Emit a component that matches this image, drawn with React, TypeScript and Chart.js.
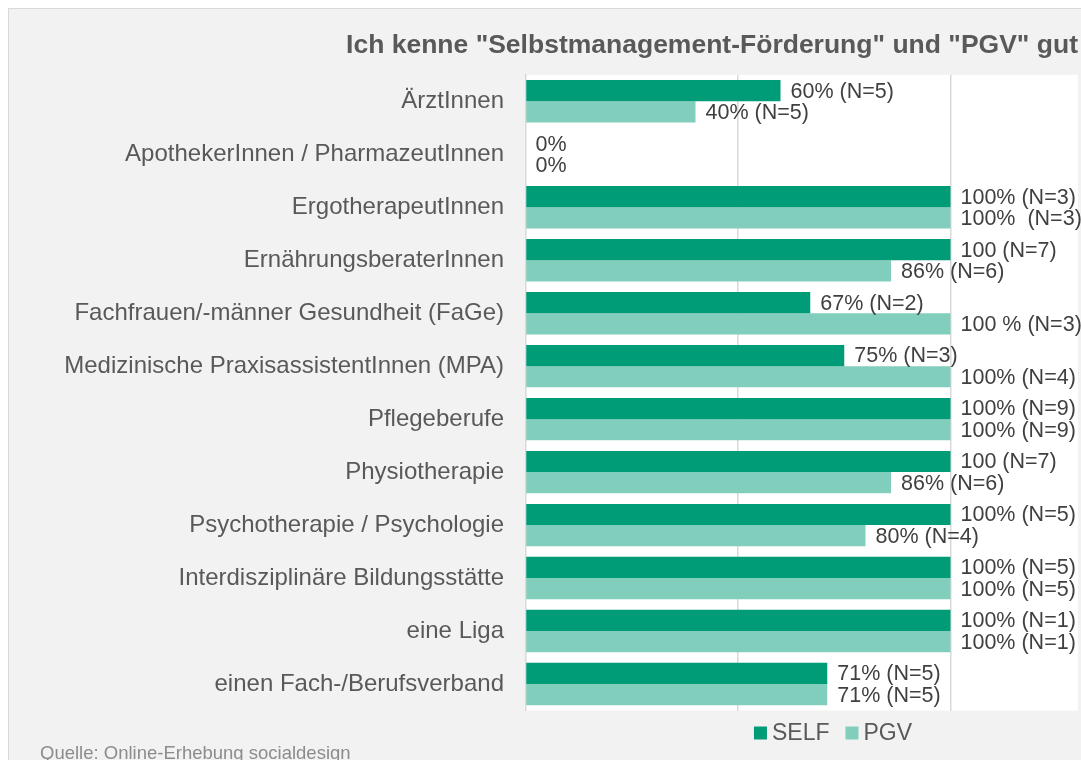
import React, { useEffect, useRef } from 'react';
import { Chart, registerables } from 'chart.js';

Chart.register(...registerables);

const categories = [
  'ÄrztInnen',
  'ApothekerInnen / PharmazeutInnen',
  'ErgotherapeutInnen',
  'ErnährungsberaterInnen',
  'Fachfrauen/-männer Gesundheit (FaGe)',
  'Medizinische PraxisassistentInnen (MPA)',
  'Pflegeberufe',
  'Physiotherapie',
  'Psychotherapie / Psychologie',
  'Interdisziplinäre Bildungsstätte',
  'eine Liga',
  'einen Fach-/Berufsverband',
];

const selfValues = [60, 0, 100, 100, 67, 75, 100, 100, 100, 100, 100, 71];
const pgvValues = [40, 0, 100, 86, 100, 100, 100, 86, 80, 100, 100, 71];

const selfLabels = [
  '60% (N=5)', '0%', '100% (N=3)', '100 (N=7)', '67% (N=2)', '75% (N=3)',
  '100% (N=9)', '100 (N=7)', '100% (N=5)', '100% (N=5)', '100% (N=1)', '71% (N=5)',
];
const pgvLabels = [
  '40% (N=5)', '0%', '100%  (N=3)', '86% (N=6)', '100 % (N=3)', '100% (N=4)',
  '100% (N=9)', '86% (N=6)', '80% (N=4)', '100% (N=5)', '100% (N=1)', '71% (N=5)',
];

const seriesNames = ['SELF', 'PGV'];
const titleText = 'Ich kenne "Selbstmanagement-Förderung" und "PGV" gut';
const sourceText = 'Quelle: Online-Erhebung socialdesign';

const FONT = "'Liberation Sans', Arial, Helvetica, sans-serif";
const COLOR_SELF = '#009B77';
const COLOR_PGV = '#82CEBC';

const plotBackgroundPlugin = {
  id: 'plotBackground',
  beforeDraw(chart: any) {
    const { ctx, chartArea } = chart;
    ctx.save();
    ctx.fillStyle = '#ffffff';
    ctx.fillRect(chartArea.left, chartArea.top, chartArea.right - chartArea.left, chartArea.bottom - chartArea.top);
    ctx.restore();
  },
};

const valueLabelPlugin = {
  id: 'valueLabels',
  afterDatasetsDraw(chart: any) {
    const ctx = chart.ctx;
    ctx.save();
    ctx.font = `21.5px ${FONT}`;
    ctx.fillStyle = '#404040';
    ctx.textAlign = 'left';
    ctx.textBaseline = 'middle';
    chart.data.datasets.forEach((ds: any, di: number) => {
      const meta = chart.getDatasetMeta(di);
      meta.data.forEach((bar: any, i: number) => {
        const txt = ds.valueLabels[i];
        ctx.fillText(txt, bar.x + 10, bar.y + 1);
      });
    });
    ctx.restore();
  },
};

const legendAndSourcePlugin = {
  id: 'legendAndSource',
  afterDraw(chart: any) {
    const ctx = chart.ctx;
    ctx.save();
    ctx.font = `23px ${FONT}`;
    ctx.textBaseline = 'middle';
    ctx.textAlign = 'left';
    const box = 13;
    const gap = 5;
    const itemGap = 16;
    const items = chart.data.datasets.map((ds: any) => ({
      label: ds.label,
      color: ds.backgroundColor,
      w: ctx.measureText(ds.label).width,
    }));
    const total = items.reduce((s: number, it: any) => s + box + gap + it.w, 0) + itemGap * (items.length - 1);
    const centerX = 824;
    const cy = 724;
    let x = centerX - total / 2;
    items.forEach((it: any) => {
      ctx.fillStyle = it.color;
      ctx.fillRect(x, cy - box / 2, box, box);
      x += box + gap;
      ctx.fillStyle = '#595959';
      ctx.fillText(it.label, x, cy + 1);
      x += it.w + itemGap;
    });
    ctx.font = `18.5px ${FONT}`;
    ctx.fillStyle = '#8c8c8c';
    ctx.textBaseline = 'alphabetic';
    ctx.fillText(sourceText, 31, 750);
    ctx.restore();
  },
};

export default function App() {
  const canvasRef = useRef<HTMLCanvasElement | null>(null);

  useEffect(() => {
    if (!canvasRef.current) return;
    const chart = new Chart(canvasRef.current, {
      type: 'bar',
      data: {
        labels: categories,
        datasets: [
          {
            label: seriesNames[0],
            data: selfValues,
            backgroundColor: COLOR_SELF,
            borderWidth: 0,
            barPercentage: 1,
            categoryPercentage: 0.8,
            valueLabels: selfLabels,
          } as any,
          {
            label: seriesNames[1],
            data: pgvValues,
            backgroundColor: COLOR_PGV,
            borderWidth: 0,
            barPercentage: 1,
            categoryPercentage: 0.8,
            valueLabels: pgvLabels,
          } as any,
        ],
      },
      options: {
        indexAxis: 'y',
        responsive: false,
        animation: false,
        events: [],
        layout: { padding: { left: 0, right: 3, top: 0, bottom: 49.5 } },
        plugins: {
          legend: { display: false },
          tooltip: { enabled: false },
          title: {
            display: true,
            text: titleText,
            align: 'end',
            color: '#595959',
            font: { family: FONT, size: 26.5, weight: 'bold' },
            padding: { top: 20.5, bottom: 13.5 },
          },
        },
        scales: {
          x: {
            min: 0,
            max: 130,
            ticks: { display: false, stepSize: 50 },
            grid: {
              drawTicks: false,
              lineWidth: 1.5,
              color: (c: any) =>
                c.tick && (c.tick.value === 50 || c.tick.value === 100) ? '#d9d9d9' : 'rgba(0,0,0,0)',
            },
            border: { display: false },
          },
          y: {
            afterFit: (scale: any) => {
              scale.width = 516.5;
            },
            ticks: {
              color: '#595959',
              font: { family: FONT, size: 24 },
              padding: 21.5,
            },
            grid: { display: false, drawTicks: false },
            border: { display: true, color: '#d9d9d9', width: 1.5 },
          },
        },
      },
      plugins: [plotBackgroundPlugin, valueLabelPlugin, legendAndSourcePlugin],
    } as any);
    return () => chart.destroy();
  }, []);

  return (
    <div
      style={{
        position: 'fixed',
        left: 8,
        top: 8,
        width: 1072,
        height: 751,
        background: '#f2f2f2',
        borderLeft: '1px solid #d9d9d9',
        borderTop: '1px solid #d9d9d9',
      }}
    >
      <canvas ref={canvasRef} width={1072} height={751} style={{ display: 'block' }} />
    </div>
  );
}
